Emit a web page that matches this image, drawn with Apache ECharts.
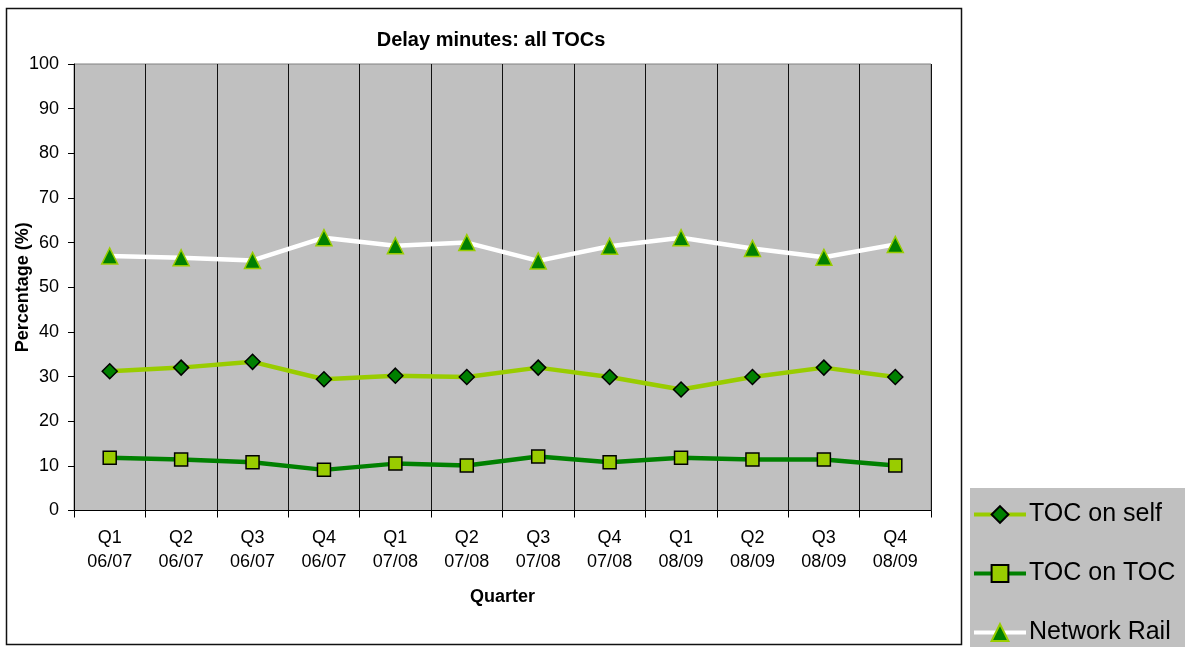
<!DOCTYPE html>
<html>
<head>
<meta charset="utf-8">
<title>Delay minutes: all TOCs</title>
<script src="https://cdn.jsdelivr.net/npm/echarts@6/dist/echarts.min.js"></script>
<style>
  html, body { margin: 0; padding: 0; background: #ffffff; }
  #chart { width: 1185px; height: 647px; }
</style>
</head>
<body>
<div id="chart"></div>
<script>
// Quarterly share of delay minutes by cause (percent)
var quarters = ['Q1\n06/07', 'Q2\n06/07', 'Q3\n06/07', 'Q4\n06/07',
                'Q1\n07/08', 'Q2\n07/08', 'Q3\n07/08', 'Q4\n07/08',
                'Q1\n08/09', 'Q2\n08/09', 'Q3\n08/09', 'Q4\n08/09'];
var tocOnSelf    = [31.2, 32.0, 33.3, 29.4, 30.2, 29.9, 32.0, 29.9, 27.1, 29.9, 32.0, 29.9];
var tocOnToc     = [11.8, 11.4, 10.8, 9.1, 10.5, 10.1, 12.1, 10.8, 11.8, 11.4, 11.4, 10.1];
var networkRail  = [57.0, 56.6, 56.0, 61.1, 59.3, 60.0, 55.9, 59.2, 61.1, 58.7, 56.7, 59.6];
var seriesNames  = ['TOC on self', 'TOC on TOC', 'Network Rail'];

var FONT = '"Liberation Sans", Arial, sans-serif';
var chart = echarts.init(document.getElementById('chart'), null, { renderer: 'canvas' });

chart.setOption({
  animation: false,
  backgroundColor: '#ffffff',
  textStyle: { fontFamily: FONT },
  graphic: [{
    type: 'rect',
    shape: { x: 6.5, y: 8.5, width: 955, height: 636 },
    style: { fill: 'none', stroke: '#111111', lineWidth: 1.5 },
    z: -1
  }],
  title: {
    text: 'Delay minutes: all TOCs',
    left: 486,
    top: 25,
    textAlign: 'center',
    textStyle: { fontFamily: FONT, fontSize: 20, fontWeight: 'bold', color: '#000' }
  },
  legend: {
    orient: 'vertical',
    left: 970,
    top: 488,
    height: 200,
    backgroundColor: '#C0C0C0',
    padding: [14, 40, 20, 2],
    itemWidth: 52,
    itemHeight: 21,
    itemGap: 34,
    lineStyle: { width: 4 },
    textStyle: { fontFamily: FONT, fontSize: 25, color: '#000', padding: [0, 0, 0, -2] },
    data: seriesNames
  },
  grid: {
    left: 74, right: 254, top: 64, bottom: 136.5,
    outerBoundsMode: 'none',
    show: true, backgroundColor: '#C0C0C0', borderColor: '#808080', borderWidth: 1
  },
  xAxis: {
    type: 'category',
    data: quarters,
    boundaryGap: true,
    name: 'Quarter',
    nameLocation: 'middle',
    nameGap: 78,
    nameMoveOverlap: false,
    nameTextStyle: { fontFamily: FONT, fontSize: 18, fontWeight: 'bold', color: '#000' },
    axisLine: { show: true, lineStyle: { color: '#000', width: 1 } },
    axisTick: { show: true, length: 7, interval: 0, lineStyle: { color: '#000' } },
    axisLabel: {
      interval: 0, margin: 16, fontFamily: FONT, fontSize: 18, lineHeight: 24, color: '#000'
    },
    splitLine: { show: true, interval: 0, lineStyle: { color: '#111', width: 1 } }
  },
  yAxis: {
    type: 'value',
    min: 0, max: 100, interval: 10,
    name: 'Percentage (%)',
    nameLocation: 'middle',
    nameGap: 42,
    nameRotate: 90,
    nameMoveOverlap: false,
    nameTextStyle: { fontFamily: FONT, fontSize: 18, fontWeight: 'bold', color: '#000' },
    axisLine: { show: true, lineStyle: { color: '#000', width: 1 } },
    axisTick: { show: true, length: 6, lineStyle: { color: '#000' } },
    axisLabel: { margin: 15, fontFamily: FONT, fontSize: 18, color: '#000' },
    splitLine: { show: false }
  },
  series: [
    {
      name: seriesNames[0], type: 'line', data: tocOnSelf,
      symbol: 'diamond', symbolSize: 15,
      lineStyle: { color: '#99CC00', width: 4.5 },
      itemStyle: { color: '#008000', borderColor: '#000', borderWidth: 1.5 }
    },
    {
      name: seriesNames[1], type: 'line', data: tocOnToc,
      symbol: 'rect', symbolSize: 13,
      lineStyle: { color: '#008000', width: 4.5 },
      itemStyle: { color: '#99CC00', borderColor: '#000', borderWidth: 1.5 }
    },
    {
      name: seriesNames[2], type: 'line', data: networkRail,
      symbol: 'triangle', symbolSize: 16,
      lineStyle: { color: '#ffffff', width: 4.5 },
      itemStyle: { color: '#008000', borderColor: '#99CC00', borderWidth: 1.5 }
    }
  ]
});
</script>
</body>
</html>
